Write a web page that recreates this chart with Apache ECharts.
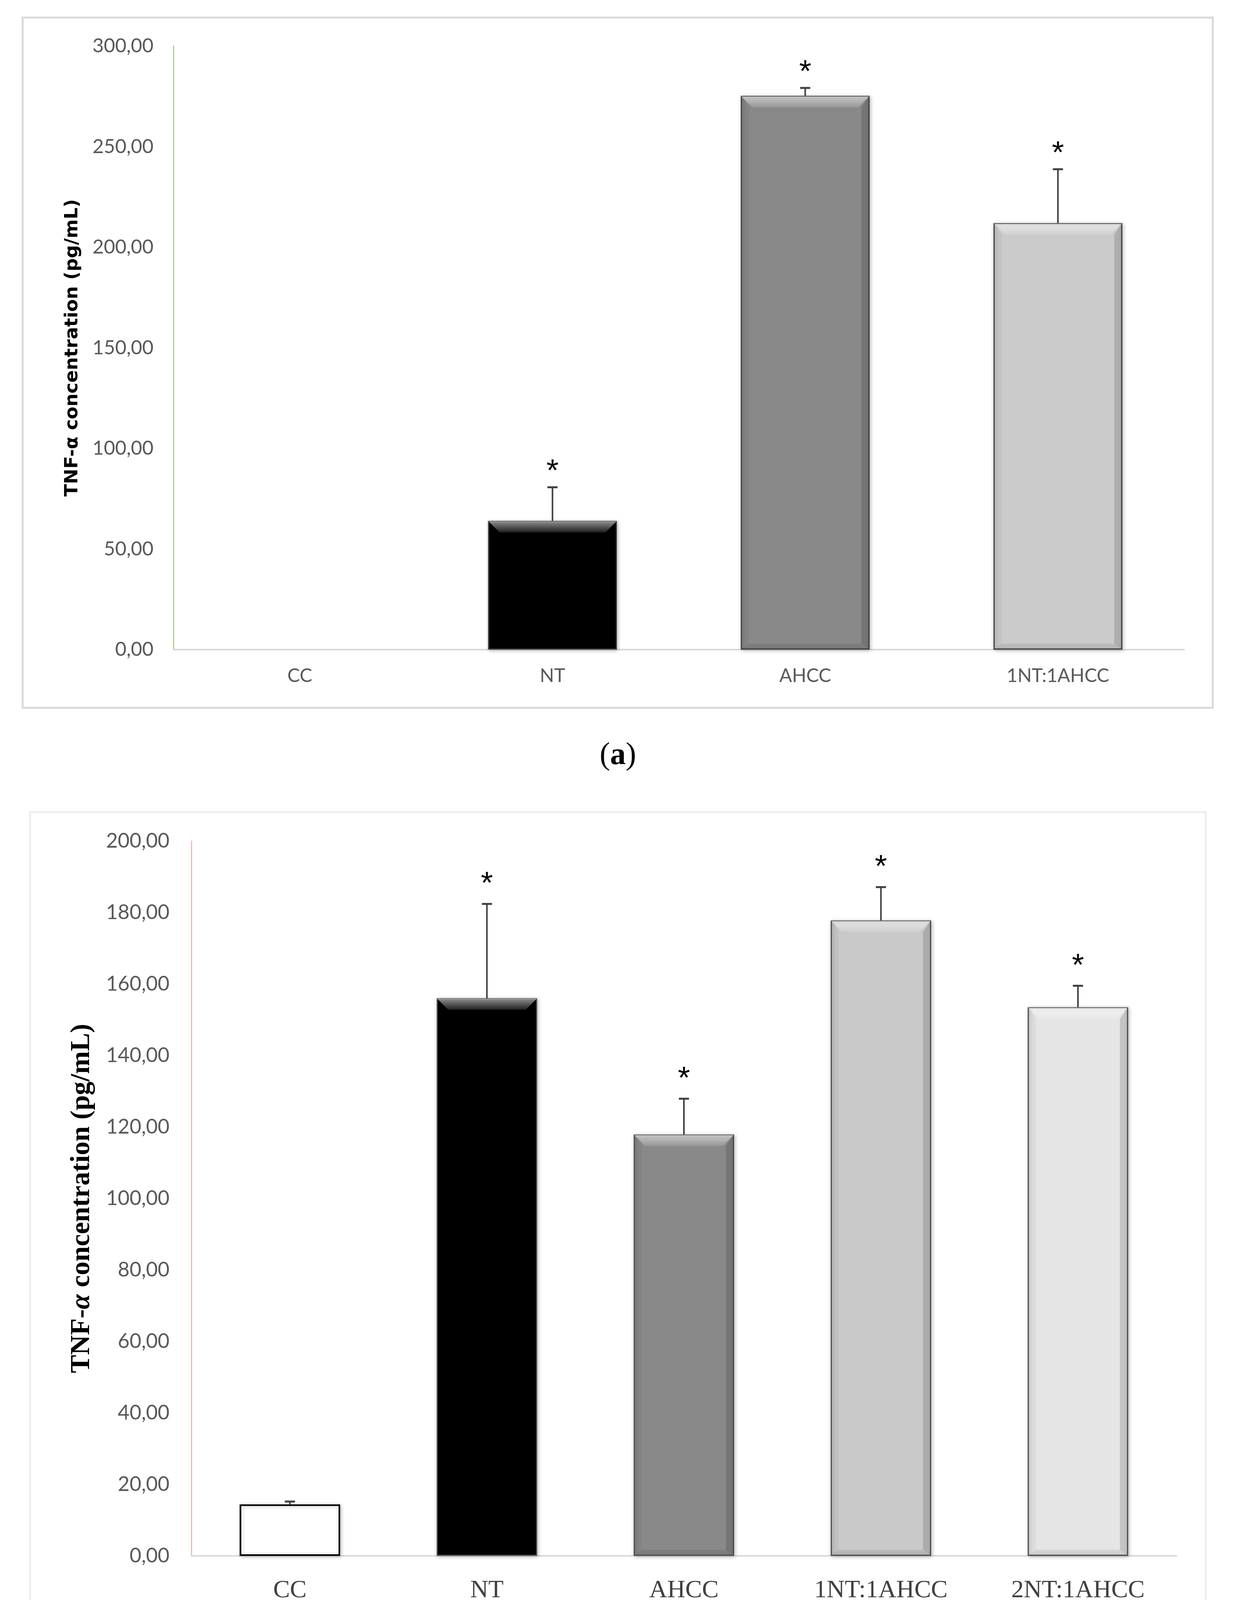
<!DOCTYPE html>
<html>
<head>
<meta charset="utf-8">
<script src="https://cdn.jsdelivr.net/npm/echarts@6/dist/echarts.min.js"></script>
<style>
  html, body { margin: 0; padding: 0; background: #ffffff; }
  #main { width: 3167px; height: 4330px; }
</style>
</head>
<body>
<div id="main"></div>
<script>
// panel (a)
var catsA = ['CC', 'NT', 'AHCC', '1NT:1AHCC'];
var meanA = [0, 64.0, 275.3, 212.0];
var errA = [0, 16.7, 3.9, 26.8];
var sigA = [false, true, true, true];
var ticksA = { min: 0, max: 300, interval: 50 };

// panel (b)
var catsB = ['CC', 'NT', 'AHCC', '1NT:1AHCC', '2NT:1AHCC'];
var meanB = [14.4, 156.0, 117.9, 177.8, 153.5];
var errB = [0.8, 26.4, 10.0, 9.3, 6.0];
var sigB = [false, true, true, true, true];
var ticksB = { min: 0, max: 200, interval: 20 };

var fillA = ['#ffffff', '#000000', '#898989', '#cbcbcb'];
var fillB = ['#ffffff', '#000000', '#898989', '#c9c9c9', '#e5e5e5'];

function fmt(v) {
    return v.toFixed(2).replace('.', ',');
}

// bevel, error bar and star on top of each bar
function overlay(fills, starGap) {
    return function (params, api) {
        var i = params.dataIndex;
        var v = api.value(1);
        var e = api.value(2);
        var sig = api.value(3);
        var top = api.coord([i, v]);
        var base = api.coord([i, 0]);
        var bw = api.size([1, 0])[0] * 0.51;
        var cx = top[0];
        var kids = [];
        if (v > 0 && fills[i] !== '#ffffff') {
            var x0 = cx - bw / 2 + 1.5, x1 = cx + bw / 2 - 1.5;
            var y0 = top[1] + 1.5, y1 = base[1] - 1.5;
            var b = Math.min(28, (y1 - y0) / 2);
            kids.push({
                type: 'polygon',
                shape: { points: [[x0, y0], [x1, y0], [x1 - b, y0 + b], [x0 + b, y0 + b]] },
                style: {
                    fill: new echarts.graphic.LinearGradient(0, 0, 0, 1, [
                        { offset: 0, color: 'rgba(255,255,255,0.55)' },
                        { offset: 1, color: 'rgba(255,255,255,0.12)' }
                    ])
                }
            });
            kids.push({
                type: 'polygon',
                shape: { points: [[x1, y0], [x1, y1], [x1 - b * 0.7, y1 - b * 0.5], [x1 - b * 0.7, y0 + b]] },
                style: { fill: 'rgba(0,0,0,0.14)' }
            });
            kids.push({
                type: 'polygon',
                shape: { points: [[x0, y0], [x0 + b * 0.7, y0 + b], [x0 + b * 0.7, y1 - b * 0.5], [x0, y1]] },
                style: { fill: 'rgba(0,0,0,0.04)' }
            });
            kids.push({
                type: 'polygon',
                shape: { points: [[x0, y1], [x0 + b * 0.7, y1 - b * 0.5], [x1 - b * 0.7, y1 - b * 0.5], [x1, y1]] },
                style: { fill: 'rgba(0,0,0,0.08)' }
            });
        }
        if (e > 0) {
            var tip = api.coord([i, v + e]);
            kids.push({
                type: 'line',
                shape: { x1: cx, y1: top[1], x2: cx, y2: tip[1] },
                style: { stroke: '#404040', lineWidth: 4 }
            });
            kids.push({
                type: 'line',
                shape: { x1: cx - 13, y1: tip[1], x2: cx + 13, y2: tip[1] },
                style: { stroke: '#404040', lineWidth: 5 }
            });
            if (sig) {
                kids.push({
                    type: 'text',
                    style: {
                        text: '*', x: cx, y: tip[1] - starGap,
                        align: 'center', verticalAlign: 'middle',
                        font: '80px "Liberation Sans"', fill: '#000000'
                    }
                });
            }
        }
        return { type: 'group', children: kids };
    };
}

function barData(means, fills, edge) {
    return means.map(function (v, i) {
        return {
            value: v,
            itemStyle: {
                color: fills[i],
                borderColor: fills[i] === '#ffffff' ? '#000000' : edge,
                borderWidth: v === 0 ? 0 : (fills[i] === '#ffffff' ? 4 : 3)
            }
        };
    });
}

var chart = echarts.init(document.getElementById('main'), null, { renderer: 'canvas' });

var option = {
    backgroundColor: '#ffffff',
    animation: false,
    graphic: [
        { type: 'rect', shape: { x: 58, y: 45, width: 3047, height: 1767 },
          style: { fill: 'none', stroke: '#d9d9d9', lineWidth: 5 }, z: -10 },
        { type: 'rect', shape: { x: 77, y: 2079, width: 3010, height: 2071 },
          style: { fill: 'none', stroke: '#eeeeee', lineWidth: 5 }, z: -10 },
        { type: 'text', x: 1582, y: 1935,
          style: { text: '{p|(}{l|a}{p|)}', align: 'center', verticalAlign: 'middle',
                   rich: { p: { font: '80px "Liberation Serif"', fill: '#000' },
                           l: { font: 'bold 80px "Liberation Serif"', fill: '#000' } } } },
        { type: 'text', x: 1582, y: 4273,
          style: { text: '{p|(}{l|b}{p|)}', align: 'center', verticalAlign: 'middle',
                   rich: { p: { font: '80px "Liberation Serif"', fill: '#000' },
                           l: { font: 'bold 80px "Liberation Serif"', fill: '#000' } } } }
    ],
    grid: [
        { left: 444, top: 118, width: 2588, height: 1545 },
        { left: 490, top: 2153, width: 2522, height: 1830 }
    ],
    xAxis: [
        {
            gridIndex: 0, type: 'category', data: catsA,
            axisLine: { lineStyle: { color: '#d9d9d9', width: 4 } },
            axisTick: { show: false },
            axisLabel: { fontFamily: 'Lato', fontSize: 48, color: '#595959', margin: 44 }
        },
        {
            gridIndex: 1, type: 'category', data: catsB,
            axisLine: { lineStyle: { color: '#d9d9d9', width: 4 } },
            axisTick: { show: false },
            axisLabel: { fontFamily: 'Liberation Serif', fontSize: 64, color: '#404040', margin: 57 }
        }
    ],
    yAxis: [
        {
            gridIndex: 0, type: 'value', min: ticksA.min, max: ticksA.max, interval: ticksA.interval,
            name: 'TNF-α concentration (pg/mL)', nameLocation: 'middle', nameGap: 235,
            nameTextStyle: { fontFamily: 'DejaVu Sans', fontWeight: 'bold', fontSize: 47, color: '#000000' },
            axisLine: { show: true, lineStyle: { color: '#a9d18e', width: 3 } },
            axisTick: { show: false },
            splitLine: { show: false },
            axisLabel: { fontFamily: 'Lato', fontSize: 50, color: '#595959', margin: 51, formatter: fmt }
        },
        {
            gridIndex: 1, type: 'value', min: ticksB.min, max: ticksB.max, interval: ticksB.interval,
            name: '{n|TNF-}{i|α}{n| concentration (pg/mL)}', nameLocation: 'middle', nameGap: 245,
            nameTextStyle: {
                rich: {
                    n: { fontFamily: 'Liberation Serif', fontWeight: 'bold', fontSize: 70, color: '#000000' },
                    i: { fontFamily: 'Liberation Serif', fontWeight: 'bold', fontStyle: 'italic', fontSize: 70, color: '#000000' }
                }
            },
            axisLine: { show: true, lineStyle: { color: '#f4b8b8', width: 3 } },
            axisTick: { show: false },
            splitLine: { show: false },
            axisLabel: { fontFamily: 'Lato', fontSize: 52, color: '#595959', margin: 56, formatter: fmt }
        }
    ],
    series: [
        {
            type: 'bar', xAxisIndex: 0, yAxisIndex: 0, barWidth: '51%', silent: true,
            data: barData(meanA, fillA, '#404040'),
            itemStyle: { shadowBlur: 10, shadowColor: 'rgba(0,0,0,0.25)', shadowOffsetX: 2, shadowOffsetY: 2 }
        },
        {
            type: 'custom', xAxisIndex: 0, yAxisIndex: 0, silent: true, z: 5,
            encode: { x: 0, y: 1 },
            data: meanA.map(function (v, i) { return [i, v, errA[i], sigA[i] ? 1 : 0]; }),
            renderItem: overlay(fillA, 38)
        },
        {
            type: 'bar', xAxisIndex: 1, yAxisIndex: 1, barWidth: '51%', silent: true,
            data: barData(meanB, fillB, '#505050'),
            itemStyle: { shadowBlur: 10, shadowColor: 'rgba(0,0,0,0.25)', shadowOffsetX: 2, shadowOffsetY: 2 }
        },
        {
            type: 'custom', xAxisIndex: 1, yAxisIndex: 1, silent: true, z: 5,
            encode: { x: 0, y: 1 },
            data: meanB.map(function (v, i) { return [i, v, errB[i], sigB[i] ? 1 : 0]; }),
            renderItem: overlay(fillB, 49)
        }
    ]
};

chart.setOption(option);
</script>
</body>
</html>
